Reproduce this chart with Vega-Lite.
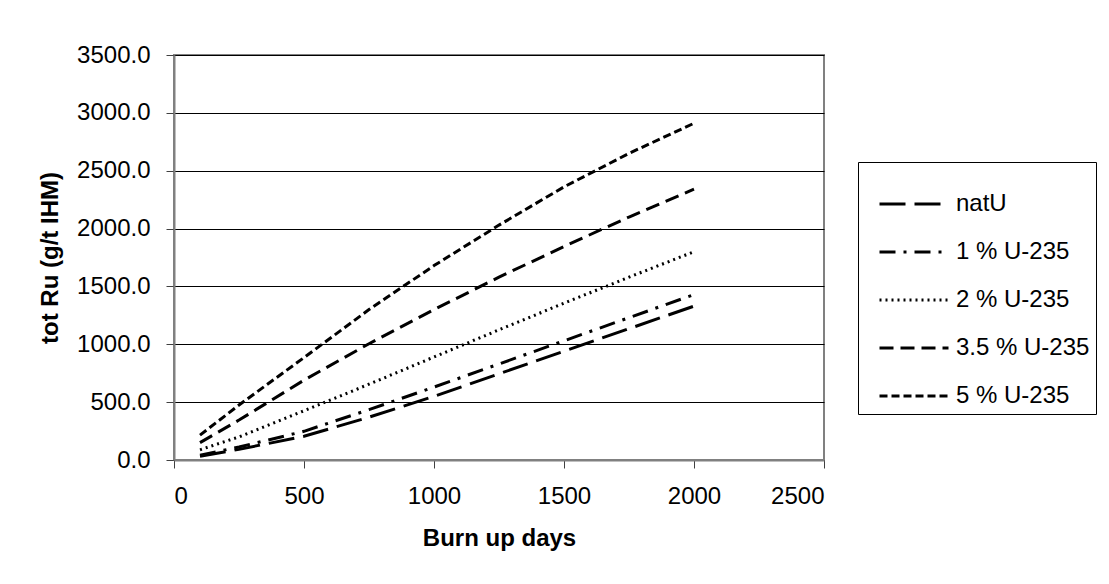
{
  "$schema": "https://vega.github.io/schema/vega-lite/v6.json",
  "autosize": "none",
  "width": 650,
  "height": 405,
  "padding": {"left": 174, "top": 55, "right": 285, "bottom": 124},
  "background": "white",
  "config": {
    "font": "Liberation Sans",
    "view": {"stroke": "#808080", "strokeWidth": 2},
    "axis": {"labelFont": "Liberation Sans", "titleFont": "Liberation Sans", "labelColor": "black", "titleColor": "black", "labelFontSize": 24, "titleFontSize": 24, "titleFontWeight": "bold", "domainColor": "#808080", "domainWidth": 2, "tickColor": "#404040", "tickSize": 8, "gridColor": "black", "gridWidth": 1, "gridOpacity": 1}
  },
  "data": {"values": [
    {"days": 100, "ru": 33, "s": "natU"},
    {"days": 250, "ru": 92, "s": "natU"},
    {"days": 500, "ru": 205, "s": "natU"},
    {"days": 750, "ru": 370, "s": "natU"},
    {"days": 1000, "ru": 550, "s": "natU"},
    {"days": 1250, "ru": 745, "s": "natU"},
    {"days": 1500, "ru": 940, "s": "natU"},
    {"days": 1750, "ru": 1135, "s": "natU"},
    {"days": 2000, "ru": 1330, "s": "natU"},
    {"days": 100, "ru": 42, "s": "\u00a01 % U-235"},
    {"days": 250, "ru": 112, "s": "\u00a01 % U-235"},
    {"days": 500, "ru": 248, "s": "\u00a01 % U-235"},
    {"days": 750, "ru": 435, "s": "\u00a01 % U-235"},
    {"days": 1000, "ru": 630, "s": "\u00a01 % U-235"},
    {"days": 1250, "ru": 830, "s": "\u00a01 % U-235"},
    {"days": 1500, "ru": 1030, "s": "\u00a01 % U-235"},
    {"days": 1750, "ru": 1230, "s": "\u00a01 % U-235"},
    {"days": 2000, "ru": 1430, "s": "\u00a01 % U-235"},
    {"days": 100, "ru": 88, "s": "\u00a02 % U-235"},
    {"days": 250, "ru": 200, "s": "\u00a02 % U-235"},
    {"days": 500, "ru": 425, "s": "\u00a02 % U-235"},
    {"days": 750, "ru": 655, "s": "\u00a02 % U-235"},
    {"days": 1000, "ru": 890, "s": "\u00a02 % U-235"},
    {"days": 1250, "ru": 1125, "s": "\u00a02 % U-235"},
    {"days": 1500, "ru": 1355, "s": "\u00a02 % U-235"},
    {"days": 1750, "ru": 1580, "s": "\u00a02 % U-235"},
    {"days": 2000, "ru": 1800, "s": "\u00a02 % U-235"},
    {"days": 100, "ru": 150, "s": "3.5 % U-235"},
    {"days": 250, "ru": 345, "s": "3.5 % U-235"},
    {"days": 500, "ru": 690, "s": "3.5 % U-235"},
    {"days": 750, "ru": 1005, "s": "3.5 % U-235"},
    {"days": 1000, "ru": 1300, "s": "3.5 % U-235"},
    {"days": 1250, "ru": 1580, "s": "3.5 % U-235"},
    {"days": 1500, "ru": 1845, "s": "3.5 % U-235"},
    {"days": 1750, "ru": 2100, "s": "3.5 % U-235"},
    {"days": 2000, "ru": 2340, "s": "3.5 % U-235"},
    {"days": 100, "ru": 215, "s": "5 % U-235"},
    {"days": 250, "ru": 475, "s": "5 % U-235"},
    {"days": 500, "ru": 885, "s": "5 % U-235"},
    {"days": 750, "ru": 1300, "s": "5 % U-235"},
    {"days": 1000, "ru": 1680, "s": "5 % U-235"},
    {"days": 1250, "ru": 2030, "s": "5 % U-235"},
    {"days": 1500, "ru": 2360, "s": "5 % U-235"},
    {"days": 1750, "ru": 2650, "s": "5 % U-235"},
    {"days": 2000, "ru": 2910, "s": "5 % U-235"}
  ]},
  "mark": {"type": "line", "color": "black", "strokeWidth": 3},
  "encoding": {
    "x": {"field": "days", "type": "quantitative", "scale": {"domain": [0, 2500], "nice": false}, "axis": {"values": [0, 500, 1000, 1500, 2000, 2500], "format": "d", "grid": false, "title": "Burn up days", "labelPadding": 16, "titlePadding": 18}},
    "y": {"field": "ru", "type": "quantitative", "scale": {"domain": [0, 3500], "nice": false}, "axis": {"values": [0, 500, 1000, 1500, 2000, 2500, 3000, 3500], "format": ".1f", "title": "tot Ru (g/t IHM)", "labelPadding": 16, "titlePadding": 14}},
    "strokeDash": {"field": "s", "type": "nominal", "scale": {"domain": ["natU", "\u00a01 % U-235", "\u00a02 % U-235", "3.5 % U-235", "5 % U-235"], "range": [[26, 9], [16, 8, 3, 8], [2, 4], [14, 7], [8, 4]]},
      "legend": {"title": null, "orient": "none", "legendX": 684, "legendY": 107, "strokeColor": "black", "padding": 6, "symbolOffset": 14, "symbolType": "stroke", "symbolSize": 4761, "symbolStrokeWidth": 3, "symbolStrokeColor": "black", "labelFontSize": 24, "labelColor": "black", "labelFont": "Liberation Sans", "rowPadding": 0, "labelOffset": 6}}
  }
}
